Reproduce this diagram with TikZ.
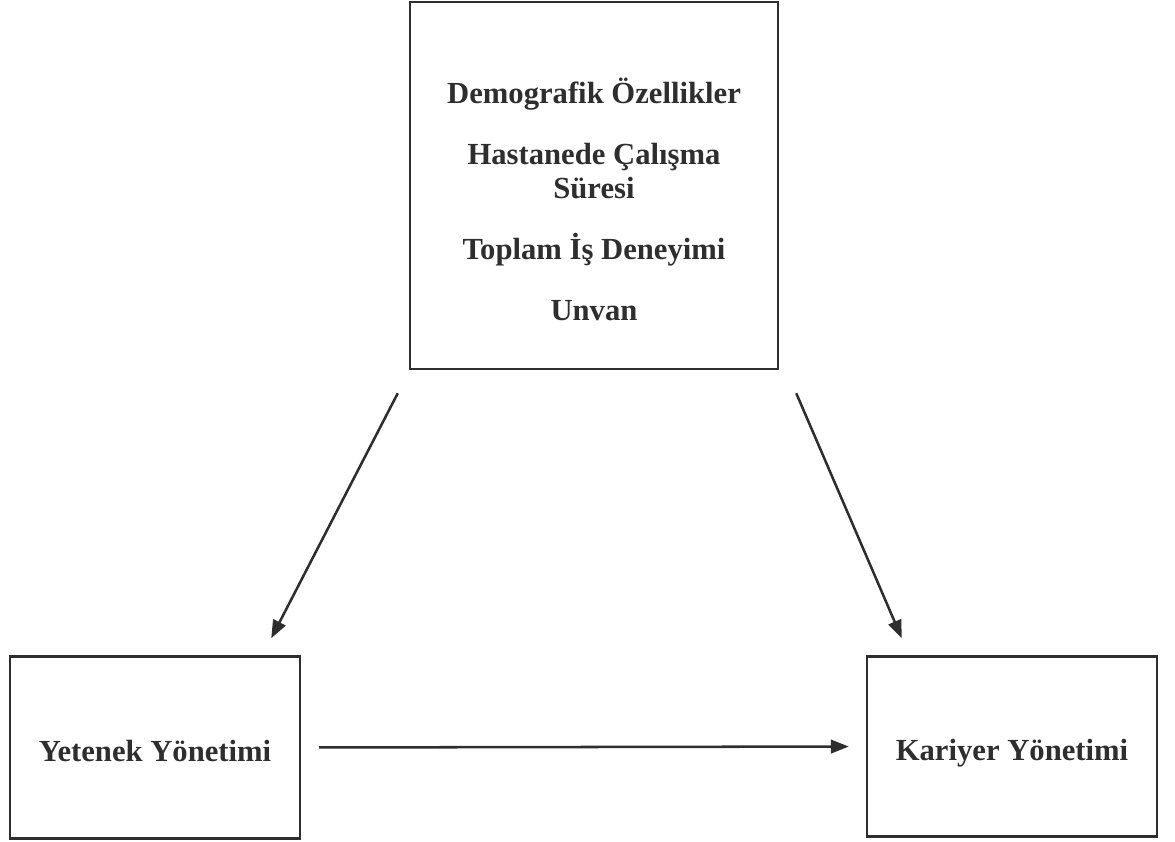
\documentclass[tikz,border=0pt]{standalone}
\usepackage{fontspec}
\setmainfont{Liberation Serif}
\usepackage{tikz}
\usetikzlibrary{arrows.meta}
\usetikzlibrary{positioning}
\definecolor{ink}{gray}{0.18}
\tikzset{box/.style={draw=ink, line width=1.7pt, inner sep=0pt},
         label text/.style={text=ink, font=\bfseries\fontsize{21.8}{24}\selectfont, align=center},
         one line/.style={text height=0.7cm, text depth=0pt},
         link/.style={draw=ink, line width=1.8pt, -{Triangle[length=0.45cm,width=0.34cm]}}}

\begin{document}
\begin{tikzpicture}[x=0.025cm,y=-0.025cm]
\useasboundingbox (0,0) rectangle (1175,841);
\node[box, minimum width=9.2cm, minimum height=9.175cm] (demo) at (594,185.5) {};
\node[label text] (demolist) at (594,199) {Demografik Özellikler\\[19.8pt]
Hastanede Çalışma\\Süresi\\[19.8pt]
Toplam İş Deneyimi\\[18.8pt]
Unvan};
\node[box, minimum width=7.25cm, minimum height=4.55cm, label text, one line] (yetenek) at (155,747.5) {Yetenek Yönetimi};
\node[box, minimum width=7.25cm, minimum height=4.5cm, label text, one line] (kariyer) at (1012,746.5) {Kariyer Yönetimi};
\draw[link] ([xshift=-0.275cm,yshift=-0.575cm]demo.south west) -- ([xshift=-0.75cm,yshift=0.425cm]yetenek.north east);
\draw[link] ([xshift=0.425cm,yshift=-0.575cm]demo.south east) -- ([xshift=0.9cm,yshift=0.425cm]kariyer.north west);
\draw[link, shorten <=0.45cm, shorten >=0.425cm] (yetenek.east) -- (kariyer.west);
\end{tikzpicture}
\end{document}
